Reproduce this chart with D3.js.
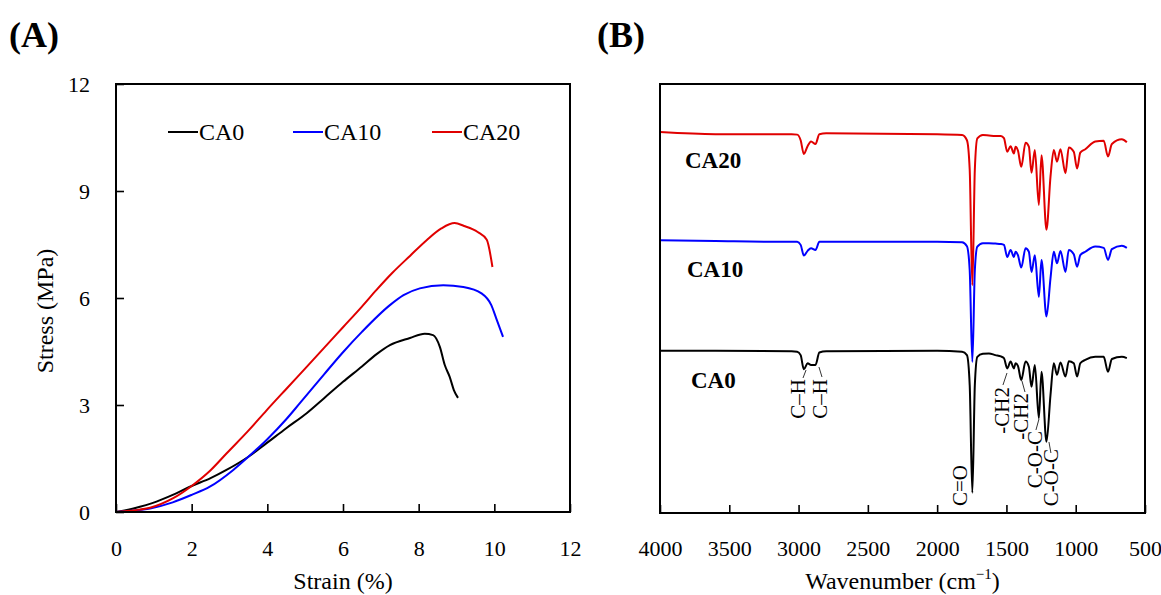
<!DOCTYPE html>
<html>
<head>
<meta charset="utf-8">
<script src="https://cdn.jsdelivr.net/npm/d3@7"></script>
<style>
  body { margin: 0; background: #fff; }
  svg text { font-family: "Liberation Serif", "DejaVu Serif", serif; fill: #000; }
</style>
</head>
<body>
<svg id="chart"></svg>
<script>
// ---- panel A: stress-strain ----
const ca0Strain = [0, 0.46, 1.07, 1.5, 2.0, 2.5, 2.92, 3.5, 3.98, 4.5, 5.04, 5.5, 6.0, 6.5, 6.88, 7.24, 7.77, 8.16, 8.38, 8.56, 8.69, 8.82, 8.93, 9.04];
const ca0Stress = [0, 0.10, 0.29, 0.48, 0.73, 0.95, 1.18, 1.55, 1.93, 2.35, 2.77, 3.19, 3.65, 4.08, 4.42, 4.68, 4.88, 5.00, 4.96, 4.63, 4.12, 3.79, 3.42, 3.20];

const ca10Strain = [0, 0.5, 0.9, 1.5, 2.0, 2.48, 3.1, 3.5, 3.98, 4.5, 4.86, 5.5, 6.0, 6.5, 7.24, 7.6, 8.03, 8.65, 9.18, 9.66, 9.92, 10.05, 10.23];
const ca10Stress = [0, 0.04, 0.10, 0.27, 0.48, 0.71, 1.18, 1.55, 2.02, 2.60, 3.05, 3.86, 4.48, 5.05, 5.80, 6.08, 6.27, 6.36, 6.31, 6.13, 5.80, 5.43, 4.91];

const ca20Strain = [0, 0.5, 0.9, 1.5, 2.0, 2.5, 2.92, 3.5, 3.98, 4.5, 5.04, 5.5, 6.0, 6.5, 6.88, 7.3, 7.77, 8.21, 8.6, 8.95, 9.2, 9.56, 9.8, 9.95];
const ca20Stress = [0, 0.05, 0.12, 0.38, 0.73, 1.17, 1.64, 2.28, 2.85, 3.45, 4.07, 4.60, 5.18, 5.76, 6.22, 6.70, 7.18, 7.62, 7.95, 8.10, 8.02, 7.85, 7.63, 6.87];

const strainTicks = [0, 2, 4, 6, 8, 10, 12];
const stressTicks = [0, 3, 6, 9, 12];

// ---- panel B: FTIR ----
const wavenumbers = [4000, 3600, 3050, 3010, 2985, 2962, 2935, 2910, 2878, 2850, 2800, 2000, 1820, 1785, 1765, 1746, 1728, 1710, 1670, 1626, 1580, 1540, 1518, 1494, 1470, 1446, 1434, 1417, 1393, 1362, 1338, 1319, 1295, 1266, 1247, 1211, 1182, 1158, 1135, 1110, 1074, 1050, 1014, 990, 967, 931, 859, 798, 767, 739, 667, 631];
const ftirCA20 = [88.8, 88.3, 88.3, 88.2, 86.9, 83.7, 85.5, 86.6, 86.0, 88.3, 88.5, 88.3, 88.1, 86.9, 80.0, 53.1, 80.0, 87.3, 88.1, 88.0, 87.9, 87.9, 87.4, 84.2, 85.5, 83.8, 85.4, 84.5, 80.7, 86.3, 85.4, 79.3, 84.6, 71.8, 83.4, 66.0, 78.4, 84.6, 81.9, 84.8, 79.2, 85.2, 84.2, 80.3, 84.0, 84.8, 86.6, 86.8, 83.1, 86.0, 87.1, 86.4];
const ftirCA10 = [63.6, 63.4, 63.2, 63.2, 62.5, 60.0, 61.1, 61.7, 61.3, 63.2, 63.2, 63.2, 63.1, 62.2, 56.6, 35.2, 56.6, 62.1, 62.9, 62.9, 62.8, 62.7, 62.5, 59.7, 61.3, 59.7, 60.9, 60.1, 57.2, 61.7, 60.9, 56.2, 60.1, 50.4, 59.0, 45.8, 54.7, 60.9, 58.2, 61.1, 56.2, 61.3, 60.3, 57.4, 60.1, 60.9, 62.1, 61.8, 59.0, 61.5, 62.3, 61.8];
const ftirCA0 = [37.8, 37.8, 37.7, 37.6, 36.8, 33.5, 34.9, 34.5, 34.5, 37.4, 37.7, 37.8, 37.6, 36.8, 29.8, 4.7, 29.8, 36.4, 37.1, 37.2, 36.8, 36.5, 36.1, 33.7, 35.3, 33.7, 34.9, 34.3, 31.0, 35.3, 34.1, 29.4, 34.5, 22.1, 32.9, 16.6, 27.5, 34.9, 32.2, 35.1, 31.8, 35.4, 34.9, 31.8, 34.9, 35.7, 36.4, 36.4, 32.9, 35.9, 36.4, 36.1];
const wnTicks = [4000, 3500, 3000, 2500, 2000, 1500, 1000, 500];

const seriesNames = ['CA0', 'CA10', 'CA20'];
const seriesColors = ['#000000', '#0000ff', '#e00000'];

// peak assignments drawn under CA0, at these wavenumbers
const peakLabels = ['C–H', 'C–H', 'C=O', '-CH2', '-CH2', 'C-O-C', 'C-O-C'];
const peakLabelWn = [3004, 2845, 1835, 1532, 1395, 1294, 1179];

const W = 1161, H = 595;
const svg = d3.select('#chart').attr('width', W).attr('height', H);

const plotTop = 84, plotBottom = 513;
const tickPad = 28;
const tickFont = 22;

function styleAxis(g) {
  g.select('.domain').remove();
  g.selectAll('line').attr('stroke-width', 1.6);
  g.selectAll('text').attr('font-size', tickFont);
  g.attr('font-family', null);
}

// ================= panel A =================
const xA = d3.scaleLinear().domain([0, 12]).range([116, 570]);
const yA = d3.scaleLinear().domain([0, 12]).range([512, 84]);

const gA = svg.append('g');

gA.append('g')
  .attr('transform', `translate(0,${yA(0)})`)
  .call(d3.axisBottom(xA).tickValues(strainTicks).tickFormat(d3.format('d')).tickSize(-8).tickPadding(tickPad))
  .call(styleAxis);

gA.append('g')
  .attr('transform', `translate(${xA(0)},0)`)
  .call(d3.axisLeft(yA).tickValues(stressTicks).tickFormat(d3.format('d')).tickSize(-8).tickPadding(tickPad - 2))
  .call(styleAxis);

const lineA = d3.line().x(d => xA(d[0])).y(d => yA(d[1])).curve(d3.curveMonotoneX);
const tensile = [
  [ca0Strain, ca0Stress],
  [ca10Strain, ca10Stress],
  [ca20Strain, ca20Stress]
];
tensile.forEach((s, i) => {
  gA.append('path')
    .datum(d3.zip(s[0], s[1]))
    .attr('d', lineA)
    .attr('fill', 'none')
    .attr('stroke', seriesColors[i])
    .attr('stroke-width', 2)
    .attr('stroke-linejoin', 'round');
});

gA.append('rect')
  .attr('x', xA(0)).attr('y', yA(12))
  .attr('width', xA(12) - xA(0)).attr('height', yA(0) - yA(12))
  .attr('fill', 'none').attr('stroke', '#000').attr('stroke-width', 2);

// legend
const legendX = [168, 293, 432];
seriesNames.forEach((n, i) => {
  gA.append('line')
    .attr('x1', legendX[i]).attr('x2', legendX[i] + 30)
    .attr('y1', 132).attr('y2', 132)
    .attr('stroke', seriesColors[i]).attr('stroke-width', 2);
  gA.append('text')
    .attr('x', legendX[i] + 31).attr('y', 140)
    .attr('font-size', 24)
    .text(n);
});

gA.append('text')
  .attr('x', xA(6)).attr('y', 589)
  .attr('text-anchor', 'middle').attr('font-size', 24)
  .text('Strain (%)');

gA.append('text')
  .attr('transform', 'translate(53,311) rotate(-90)')
  .attr('text-anchor', 'middle').attr('font-size', 24)
  .text('Stress (MPa)');

svg.append('text')
  .attr('x', 9).attr('y', 47)
  .attr('font-size', 36).attr('font-weight', 'bold')
  .text('(A)');

// ================= panel B =================
const xB = d3.scaleLinear().domain([4000, 500]).range([660, 1145]);
const yB = d3.scaleLinear().domain([0, 100]).range([plotBottom, plotTop]);

const gB = svg.append('g');

gB.append('g')
  .attr('transform', `translate(0,${plotBottom})`)
  .call(d3.axisBottom(xB).tickValues(wnTicks).tickFormat(d3.format('d')).tickSize(-8).tickPadding(tickPad - 1))
  .call(styleAxis);

const lineB = d3.line().x(d => xB(d[0])).y(d => yB(d[1])).curve(d3.curveMonotoneX);
const spectra = [ftirCA0, ftirCA10, ftirCA20];
spectra.forEach((vals, i) => {
  gB.append('path')
    .datum(d3.zip(wavenumbers, vals))
    .attr('d', lineB)
    .attr('fill', 'none')
    .attr('stroke', seriesColors[i])
    .attr('stroke-width', 2)
    .attr('stroke-linejoin', 'round');
});

gB.append('rect')
  .attr('x', xB(4000)).attr('y', plotTop)
  .attr('width', xB(500) - xB(4000)).attr('height', plotBottom - plotTop)
  .attr('fill', 'none').attr('stroke', '#000').attr('stroke-width', 2);

// spectrum names
const nameY = [388, 277, 168];
const nameX = [691, 687, 685];
seriesNames.forEach((n, i) => {
  gB.append('text')
    .attr('x', nameX[i]).attr('y', nameY[i])
    .attr('font-size', 23).attr('font-weight', 'bold')
    .text(n);
});

// rotated peak labels, anchored at their top end, with short leader lines
const labelTop = [379, 379, 465, 387, 393, 431, 449];
const leaders = [
  [2946, 370, 2968, 378],
  [2853, 367, 2831, 377],
  null,
  [1496, 373, 1525, 385],
  [1388, 381, 1366, 392],
  [1265, 419, 1287, 430],
  [1193, 442, 1179, 453]
];
peakLabels.forEach((t, i) => {
  const bx = xB(peakLabelWn[i]) + 7;
  gB.append('text')
    .attr('transform', `translate(${bx},${labelTop[i]}) rotate(-90)`)
    .attr('text-anchor', 'end')
    .attr('font-size', 21)
    .text(t);
  const l = leaders[i];
  if (l) {
    gB.append('line')
      .attr('x1', xB(l[0])).attr('y1', l[1])
      .attr('x2', xB(l[2])).attr('y2', l[3])
      .attr('stroke', '#000').attr('stroke-width', 0.8);
  }
});

const wl = gB.append('text')
  .attr('x', (xB(4000) + xB(500)) / 2).attr('y', 589)
  .attr('text-anchor', 'middle').attr('font-size', 24);
wl.append('tspan').text('Wavenumber (cm');
wl.append('tspan').attr('font-size', 15).attr('dy', -10).text('−1');
wl.append('tspan').attr('dy', 10).text(')');

svg.append('text')
  .attr('x', 597).attr('y', 47)
  .attr('font-size', 36).attr('font-weight', 'bold')
  .text('(B)');
</script>
</body>
</html>
